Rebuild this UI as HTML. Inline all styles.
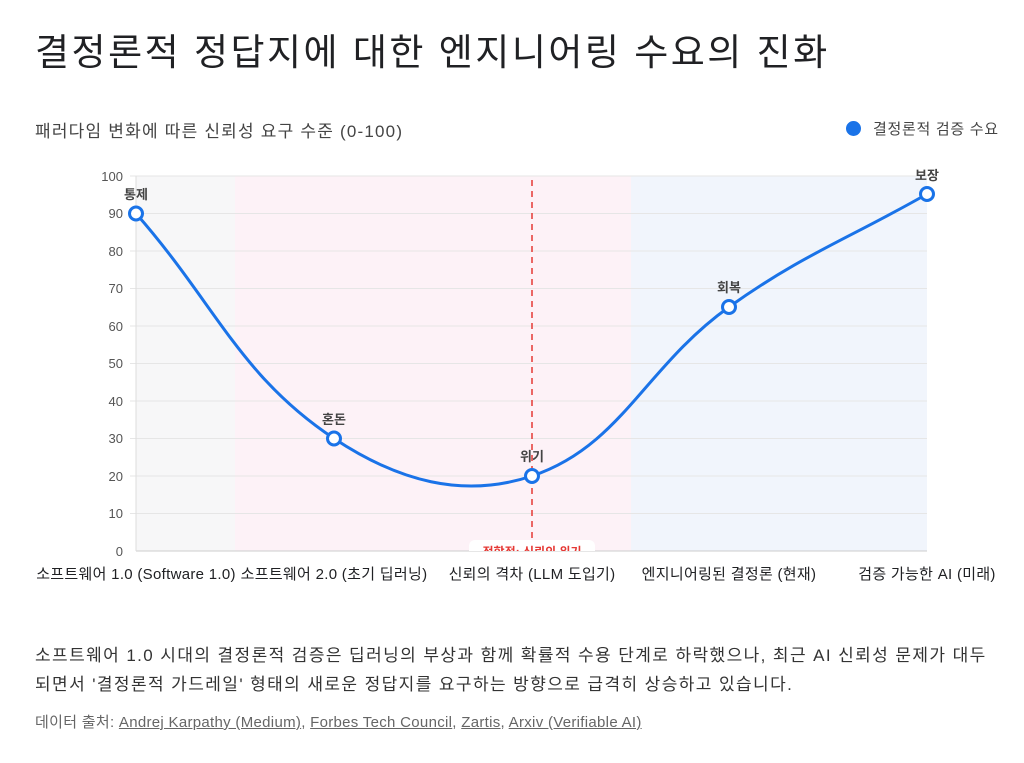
<!DOCTYPE html>
<html><head><meta charset="utf-8"><style>
body{margin:0;width:1024px;height:763px;background:#fff;font-family:"Liberation Sans","Noto Sans CJK KR",sans-serif;color:#202124;overflow:hidden;position:relative}
.t{position:absolute;white-space:nowrap}
</style></head><body>
<div class="t" style="left:35px;top:22px;font-size:37px;letter-spacing:2.5px;color:#202124">결정론적 정답지에 대한 엔지니어링 수요의 진화</div>
<div class="t" style="left:35px;top:117px;font-size:17px;letter-spacing:1.2px;color:#444">패러다임 변화에 따른 신뢰성 요구 수준 (0-100)</div>
<div class="t" style="left:846px;top:118px;font-size:15px;letter-spacing:0.7px;color:#444"><span style="display:inline-block;width:15px;height:15px;border-radius:50%;background:#1a73e8;vertical-align:-2px;margin-right:12px"></span>결정론적 검증 수요</div>
<svg width="1024" height="763" style="position:absolute;left:0;top:0" font-family="Liberation Sans, Noto Sans CJK KR, sans-serif">
<rect x="136" y="176" width="99" height="375" fill="#f7f7f8"/>
<rect x="235" y="176" width="396" height="375" fill="#fdf2f7"/>
<rect x="631" y="176" width="296" height="375" fill="#f1f5fc"/>
<g stroke="#e6e6e6" stroke-width="1">
<line x1="130" x2="927" y1="176" y2="176"/><line x1="130" x2="927" y1="213.5" y2="213.5"/><line x1="130" x2="927" y1="251" y2="251"/><line x1="130" x2="927" y1="288.5" y2="288.5"/><line x1="130" x2="927" y1="326" y2="326"/><line x1="130" x2="927" y1="363.5" y2="363.5"/><line x1="130" x2="927" y1="401" y2="401"/><line x1="130" x2="927" y1="438.5" y2="438.5"/><line x1="130" x2="927" y1="476" y2="476"/><line x1="130" x2="927" y1="513.5" y2="513.5"/>
</g>
<line x1="136" x2="927" y1="551" y2="551" stroke="#ccc"/>
<line x1="136" x2="136" y1="176" y2="551" stroke="#ddd"/>
<g font-size="13" fill="#555" text-anchor="end">
<text x="123" y="181">100</text><text x="123" y="218">90</text><text x="123" y="256">80</text><text x="123" y="293">70</text><text x="123" y="331">60</text><text x="123" y="368">50</text><text x="123" y="406">40</text><text x="123" y="443">30</text><text x="123" y="481">20</text><text x="123" y="518">10</text><text x="123" y="556">0</text>
</g>
<line x1="532" x2="532" y1="180" y2="551" stroke="#e53935" stroke-width="1.5" stroke-dasharray="6,5"/>
<svg x="0" y="0" width="1024" height="551" overflow="hidden"><rect x="469" y="540" width="126" height="22" rx="6" fill="#fff"/><text x="532" y="556" font-size="12" fill="#e53935" font-weight="bold" text-anchor="middle">정합점: 신뢰의 위기</text></svg>
<path d="M136,213.5 C215.2,303.5 239.4,375.7 334,438.5 C397.8,480.8 462.9,499 532,476 C620.9,446.4 644.9,367.1 729,307 C802.9,254.3 847.8,239.2 927,194" fill="none" stroke="#1a73e8" stroke-width="3"/>
<g fill="#fff" stroke="#1a73e8" stroke-width="3">
<circle cx="136" cy="213.5" r="6.5"/><circle cx="334" cy="438.5" r="6.5"/><circle cx="532" cy="476" r="6.5"/><circle cx="729" cy="307" r="6.5"/><circle cx="927" cy="194" r="6.5"/>
</g>
<g font-size="13" fill="#444" font-weight="bold" text-anchor="middle">
<text x="136" y="199">통제</text><text x="334" y="424">혼돈</text><text x="532" y="461">위기</text><text x="729" y="292">회복</text><text x="927" y="180">보장</text>
</g>
<g font-size="15" fill="#202124" text-anchor="middle" letter-spacing="0.3">
<text x="136" y="579">소프트웨어 1.0 (Software 1.0)</text><text x="334" y="579">소프트웨어 2.0 (초기 딥러닝)</text><text x="532" y="579">신뢰의 격차 (LLM 도입기)</text><text x="729" y="579">엔지니어링된 결정론 (현재)</text><text x="927" y="579">검증 가능한 AI (미래)</text>
</g>
</svg>
<div class="t" style="left:35px;top:641px;font-size:17px;letter-spacing:1.4px;color:#333;line-height:29px">소프트웨어 1.0 시대의 결정론적 검증은 딥러닝의 부상과 함께 확률적 수용 단계로 하락했으나, 최근 AI 신뢰성 문제가 대두<br>되면서 '결정론적 가드레일' 형태의 새로운 정답지를 요구하는 방향으로 급격히 상승하고 있습니다.</div>
<div class="t" style="left:35px;top:711px;font-size:15px;letter-spacing:0.3px;color:#666">데이터 출처: <u>Andrej Karpathy (Medium)</u>, <u>Forbes Tech Council</u>, <u>Zartis</u>, <u>Arxiv (Verifiable AI)</u></div>
</body></html>
